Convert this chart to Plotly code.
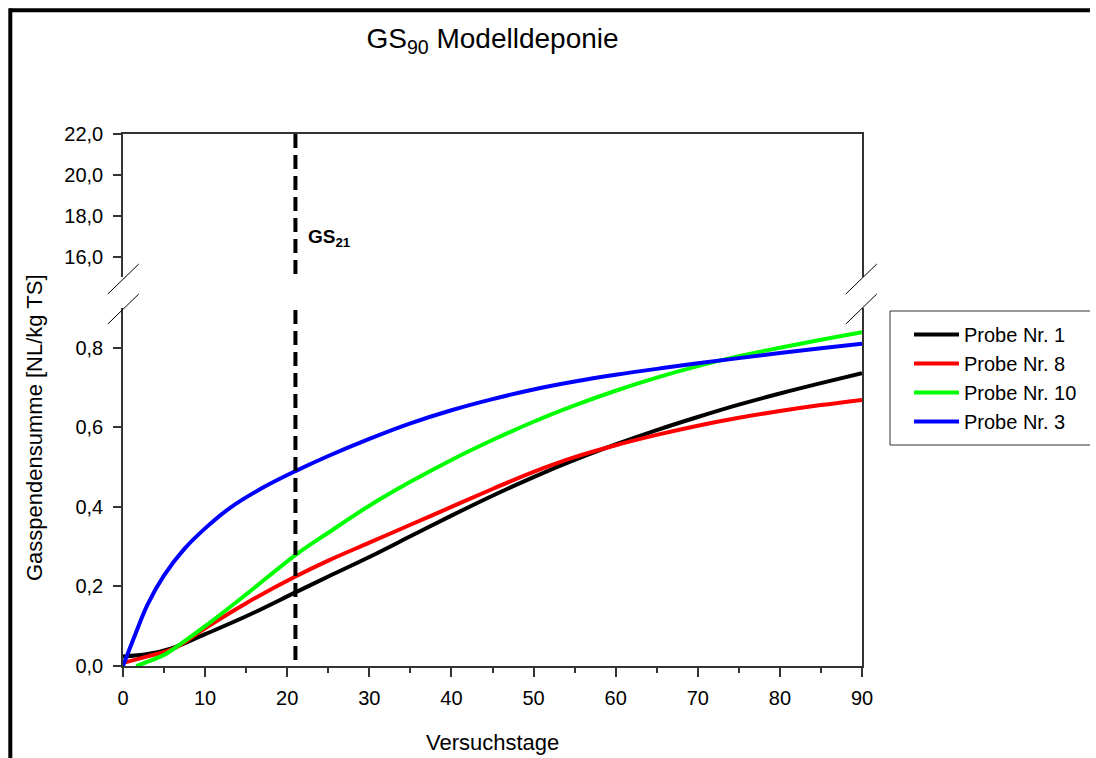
import plotly.graph_objects as go

# ---- data ----
days_p1 = [0, 3, 6, 10, 15, 21, 25, 30, 35, 40, 45, 50, 55, 60, 65, 70, 75, 80, 85, 90]
gs_p1 = [0.024, 0.03, 0.045, 0.08, 0.125, 0.185, 0.225, 0.274, 0.326, 0.378, 0.428, 0.475,
         0.518, 0.557, 0.593, 0.626, 0.657, 0.685, 0.711, 0.736]

days_p8 = [0, 3, 6.3, 10, 15, 21, 25, 30, 35, 40, 45, 50, 55, 60, 65, 70, 75, 80, 85, 90]
gs_p8 = [0.008, 0.024, 0.045, 0.095, 0.158, 0.225, 0.265, 0.31, 0.355, 0.4, 0.445, 0.488,
         0.525, 0.555, 0.581, 0.604, 0.624, 0.641, 0.656, 0.669]

days_p10 = [1.6, 3, 5, 6.3, 10, 15, 21, 25, 30, 35, 40, 45, 50, 55, 60, 65, 70, 75, 80, 85, 90]
gs_p10 = [0.0, 0.011, 0.028, 0.045, 0.1, 0.18, 0.279, 0.335, 0.403, 0.463, 0.518, 0.568,
          0.614, 0.655, 0.692, 0.725, 0.754, 0.779, 0.8, 0.82, 0.839]

days_p3 = [0, 1.5, 3, 5, 7.5, 10, 13, 17, 21, 25, 30, 35, 40, 45, 50, 55, 60, 65, 70, 75, 80, 85, 90]
gs_p3 = [0.0, 0.08, 0.155, 0.228, 0.295, 0.346, 0.397, 0.448, 0.49, 0.528, 0.571, 0.61, 0.643,
         0.671, 0.695, 0.715, 0.732, 0.747, 0.761, 0.774, 0.787, 0.799, 0.81]

series = [
    ("Probe Nr. 1", days_p1, gs_p1, "#000000"),
    ("Probe Nr. 8", days_p8, gs_p8, "#FF0000"),
    ("Probe Nr. 10", days_p10, gs_p10, "#00FF00"),
    ("Probe Nr. 3", days_p3, gs_p3, "#0000FF"),
]

GS21_DAY = 21
x_ticks = [0, 10, 20, 30, 40, 50, 60, 70, 80, 90]
y_low_ticks = [0.0, 0.2, 0.4, 0.6, 0.8]
y_high_ticks = [16, 18, 20, 22]

# ---- geometry ----
W, H = 1096, 758
ML, MR, MT, MB = 123, 234, 134, 92
PW, PH = W - ML - MR, H - MT - MB

def px_x(px):
    return (px - ML) / PW

def px_y(py):
    return (H - MB - py) / PH

FONT = "Liberation Sans, Arial, sans-serif"
AX = "#333333"

fig = go.Figure()
for name, xs, ys, col in series:
    fig.add_trace(go.Scatter(
        x=xs, y=ys, mode="lines", name=name,
        line=dict(color=col, width=4, shape="spline", smoothing=1.0),
        xaxis="x", yaxis="y",
    ))

axis_common = dict(
    showgrid=False, zeroline=False, showline=True, linecolor=AX, linewidth=1.5,
    ticks="outside", tickcolor=AX, tickwidth=1.5,
    tickfont=dict(family=FONT, size=20, color="#000000"),
)


def px_line(x0, y0, x1, y1, color="#000000", width=1):
    return dict(type="line", xref="paper", yref="paper",
                x0=px_x(x0), x1=px_x(x1), y0=px_y(y0), y1=px_y(y1),
                line=dict(color=color, width=width))


shapes = []
# GS21 dashed marker, split by the axis break
shapes.append(dict(type="line", xref="x2", yref="y2", x0=GS21_DAY, x1=GS21_DAY, y0=22, y1=15,
                   line=dict(color="#000000", width=4, dash="14px,7px"), layer="above"))
shapes.append(dict(type="line", xref="x", yref="y", x0=GS21_DAY, x1=GS21_DAY, y0=0.895, y1=-0.004,
                   line=dict(color="#000000", width=4, dash="14px,7px"), layer="above"))
# axis-break marks
for cx in (123.3, 861.3):
    for cy in (279, 309):
        shapes.append(px_line(cx - 15.5, cy + 15, cx + 15.5, cy - 15))
# legend box (runs off the right edge, so no right side)
shapes.append(px_line(890, 311, W - 6, 311, AX))
shapes.append(px_line(890, 445, W - 6, 445, AX))
shapes.append(px_line(890, 311, 890, 445, AX))
# outer frame: only left and top edges are inside the picture
shapes.append(px_line(10.3, 10.3, W - 6, 10.3, width=4))
shapes.append(px_line(10.3, 8.3, 10.3, H, width=4))

fig.update_layout(
    width=W, height=H,
    margin=dict(l=ML, r=MR, t=MT, b=MB, autoexpand=False),
    paper_bgcolor="white", plot_bgcolor="white",
    separators=",.",
    font=dict(family=FONT, color="#000000"),
    title=dict(text="GS<sub>90</sub> Modelldeponie", x=0.5, xref="paper", xanchor="center",
               y=1 - 38 / H, yanchor="middle", font=dict(family=FONT, size=28, color="#000000")),
    xaxis=dict(axis_common, domain=[0, 1], anchor="y", range=[0, 90], tickvals=x_ticks,
               minor=dict(dtick=5, ticks="outside", ticklen=5, tickcolor=AX, tickwidth=1.5),
               ticklen=9, ticklabelstandoff=4),
    yaxis=dict(axis_common, domain=[0, px_y(308)], anchor="x", range=[0, 0.9],
               tickvals=y_low_ticks, tickformat=".1f", ticklen=8, mirror=True,
               ticklabelstandoff=6),
    xaxis2=dict(showgrid=False, zeroline=False, showline=True, linecolor=AX, linewidth=1.5,
                domain=[0, 1], anchor="y2", side="top", range=[0, 90],
                showticklabels=False, ticks=""),
    yaxis2=dict(axis_common, domain=[px_y(277), 1], anchor="x2", range=[15, 22],
                tickvals=y_high_ticks, tickformat=".1f", ticklen=8, mirror=True,
                ticklabelstandoff=6),
    showlegend=True,
    legend=dict(x=px_x(909), y=px_y(315), xanchor="left", yanchor="top",
                font=dict(family=FONT, size=20, color="#000000"), itemwidth=45,
                bgcolor="rgba(0,0,0,0)", borderwidth=0, tracegroupgap=0),
    shapes=shapes,
    annotations=[
        dict(text="<b>GS<sub>21</sub></b>", xref="x2", yref="y2", x=22.3, y=16.9,
             xanchor="left", yanchor="middle", showarrow=False,
             font=dict(family=FONT, size=19, color="#000000")),
        dict(text="Versuchstage", xref="paper", yref="paper", x=px_x(492), y=px_y(742),
             xanchor="center", yanchor="middle", showarrow=False,
             font=dict(family=FONT, size=22, color="#000000")),
        dict(text="Gasspendensumme [NL/kg TS]", xref="paper", yref="paper",
             x=px_x(35), y=px_y(428), xanchor="center", yanchor="middle", textangle=-90,
             showarrow=False, font=dict(family=FONT, size=22, color="#000000")),
    ],
)

fig.write_html("out.html", config={"displayModeBar": False},
               post_script="document.body.style.margin='0';document.body.style.overflow='hidden';")
